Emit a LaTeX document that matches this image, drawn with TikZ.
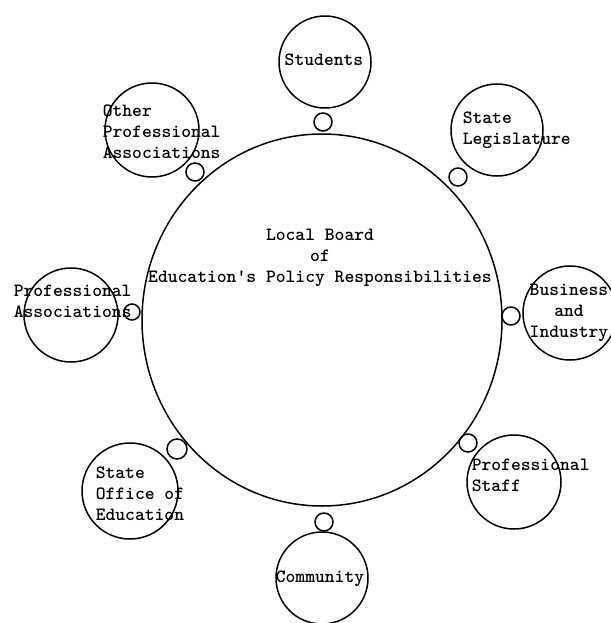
\documentclass[tikz,border=0pt]{standalone}
\usepackage{tikz}
\usetikzlibrary{shapes.geometric}
\begin{document}
\begin{tikzpicture}[
			     x=1pt, y=-1pt,
			     line width=1.5pt,
			     every node/.style={font=\fontsize{18.7}{21}\selectfont\ttfamily\bfseries, inner sep=0pt},
			     partner/.style={draw, circle, minimum size=94pt},
			     joint/.style={draw, circle, minimum size=18pt},
			     tag/.style={align=left, anchor=west}
			     ]
\useasboundingbox (0,0) rectangle (610,623);
% the board in the middle
\node[draw, ellipse, minimum width=360pt, minimum height=372pt] (board) at (322,320) {};
\node[align=center] (board-text) at (320,258) {Local Board\\of\\Education's Policy Responsibilities};
% the partners round it
\node[partner, minimum size=92pt] (students) at (325,62) {};
\node[partner, minimum size=92pt] (legislature) at (497,130) {};
\node[partner] (other-assoc) at (152,130) {};
\node[partner] (prof-assoc) at (71,315) {};
\node[partner] (business) at (570,313) {};
\node[partner] (staff) at (514,482) {};
\node[partner, minimum size=92pt] (community) at (322,578) {};
\node[partner, minimum size=96pt] (state-office) at (130,491) {};
% the small rings between
\node[joint] (students-joint) at (323,122) {};
\node[joint] (legislature-joint) at (458,177) {};
\node[joint] (other-assoc-joint) at (195,172) {};
\node[joint, minimum size=16pt] (prof-assoc-joint) at (132,312) {};
\node[joint] (business-joint) at (511,316) {};
\node[joint] (staff-joint) at (468,443) {};
\node[joint] (community-joint) at (324,522) {};
\node[joint, minimum size=20pt] (state-office-joint) at (177,449) {};
% the texts
\node (students-text) at (324,60) {Students};
\node[tag] (legislature-text) at (462,130) {State\\Legislature};
\node[tag] (other-assoc-text) at (102,132) {Other\\Professional\\Associations};
\node[tag] (prof-assoc-text) at (13,301) {Professional\\Associations};
\node[align=center] (business-text) at (569,313) {Business\\and\\Industry};
\node[tag] (staff-text) at (471,475) {Professional\\Staff};
\node (community-text) at (320,579) {Community};
\node[tag] (state-office-text) at (95,494) {State\\Office of\\Education};
\end{tikzpicture}
\end{document}
